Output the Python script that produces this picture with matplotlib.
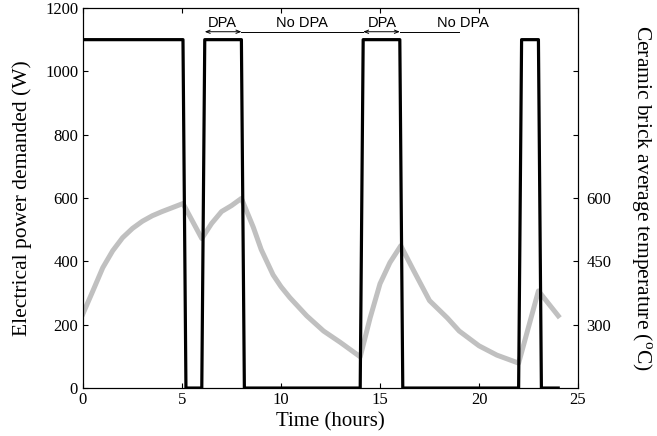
import matplotlib
matplotlib.use("Agg")
import matplotlib.pyplot as plt

# ---- data ----
power_t = [0, 5.05, 5.2, 6.0, 6.15, 8.0, 8.15, 14.0, 14.15, 16.0, 16.15, 22.0, 22.15, 23.0, 23.15, 24.0]
power_w = [1100, 1100, 0, 0, 1100, 1100, 0, 0, 1100, 1100, 0, 0, 1100, 1100, 0, 0]

temp_t = [0, 0.5, 1.0, 1.5, 2.0, 2.5, 3.0, 3.5, 4.0, 4.5, 5.05,
          6.0, 6.5, 7.0, 7.5, 8.0,
          8.6, 9.0, 9.6, 10.0, 10.45, 11.3, 12.15, 13.0, 14.0,
          14.5, 15.0, 15.5, 16.05,
          16.7, 17.5, 18.4, 19.0, 20.0, 20.9, 22.0,
          23.0, 24.0]
temp_c = [326, 380, 435, 475, 506, 528, 545, 558, 568, 577, 587,
          504, 540, 568, 582, 599,
          531, 478, 418, 390, 364, 321, 285, 258, 224,
          316, 397, 447, 487,
          428, 357, 316, 285, 250, 228, 209,
          380, 321]

x_ticks = [0, 5, 10, 15, 20, 25]
left_ticks = [0, 200, 400, 600, 800, 1000, 1200]
right_ticks = [300, 450, 600, 750, 900]
right_tick_labels = ["300", "450", "600", "", ""]

# annotation segments: (start, end, label, label_x, arrow)
segments = [(6.15, 8.0, "DPA", 7.05, True),
            (8.0, 14.15, "No DPA", 11.05, False),
            (14.15, 16.0, "DPA", 15.1, True),
            (16.0, 19.0, "No DPA", 19.2, False)]

serif = ["Liberation Serif", "DejaVu Serif"]
plt.rcParams["font.family"] = serif
plt.rcParams["mathtext.fontset"] = "custom"
plt.rcParams["mathtext.rm"] = "Liberation Serif"

fig = plt.figure(figsize=(6.57, 4.36), dpi=100)
ax = fig.add_axes([0.1263, 0.110, 0.7535, 0.8717])

ax.plot(power_t, power_w, color="black", lw=2.3, zorder=3)
ax.set_xlim(0, 25)
ax.set_ylim(0, 1200)
ax.set_xticks(x_ticks)
ax.set_yticks(left_ticks)
ax.tick_params(direction="in", length=3.5, width=0.8, labelsize=12, top=True, right=False)
ax.tick_params(axis="x", pad=3)
ax.set_xlabel("Time (hours)", fontsize=15, labelpad=3)
ax.set_ylabel("Electrical power demanded (W)", fontsize=15.5, labelpad=9)

ax2 = ax.twinx()
ax2.plot(temp_t, temp_c, color="#c0c0c0", lw=3.6, zorder=2)
ax2.set_ylim(150, 1050)
ax2.set_yticks(right_ticks)
ax2.set_yticklabels(right_tick_labels)
ax2.tick_params(direction="in", length=3.5, width=0.8, labelsize=12, pad=6)
ax2.set_ylabel(r"Ceramic brick average temperature ($^{\rm o}$C)", fontsize=15.5,
               rotation=270, labelpad=30)
ax.set_zorder(ax2.get_zorder() + 1)
ax.patch.set_visible(False)

for sp in list(ax.spines.values()) + list(ax2.spines.values()):
    sp.set_linewidth(0.8)

y_line = 1125
for a, b, lab, lx, arrow in segments:
    if arrow:
        ax.annotate("", xy=(a, y_line), xytext=(b, y_line),
                    arrowprops=dict(arrowstyle="<->,head_length=0.3,head_width=0.12",
                                    lw=0.7, color="black", shrinkA=0, shrinkB=0))
    else:
        ax.plot([a, b], [y_line, y_line], color="black", lw=0.7)
    ax.text(lx, y_line + 4, lab, ha="center", va="bottom", fontsize=10.5,
            family=["Liberation Sans", "DejaVu Sans"])

fig.savefig("out.png", dpi=100)
